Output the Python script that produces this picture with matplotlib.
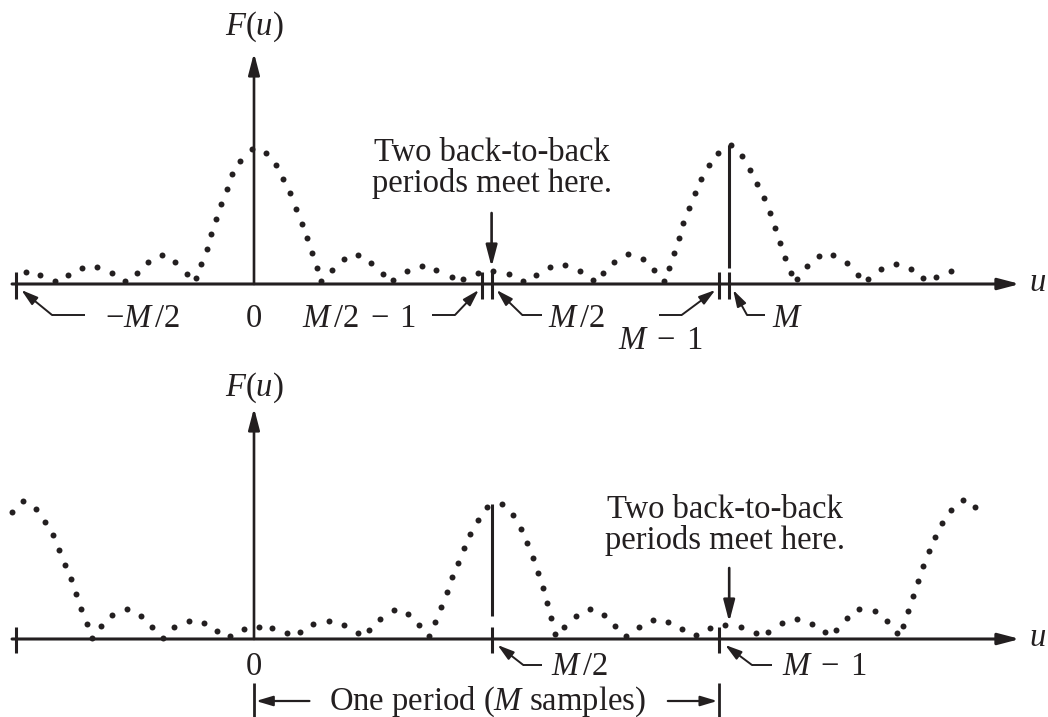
import numpy as np
import matplotlib.pyplot as plt
from matplotlib.patches import ArrowStyle

plt.rcParams['font.family'] = 'Liberation Serif'
plt.rcParams['mathtext.fontset'] = 'custom'
plt.rcParams['mathtext.rm'] = 'Liberation Serif'
plt.rcParams['mathtext.it'] = 'Liberation Serif:italic'

INK = '#231f20'
FS = 23.5
M = 48  # samples per period

# Spectrum with the origin at the left end of a period
top_u = [-23.03, -21.62, -20.10, -18.82, -17.40, -15.89, -14.31, -13.03, -11.85, -10.68,
         -9.26, -7.98, -6.80, -5.86, -5.32, -4.78, -4.34, -3.84, -3.30, -2.76,
         -2.19, -1.41, -0.23, 1.18, 2.22, 2.96, 3.67, 4.21, 4.82, 5.32,
         5.83, 6.39, 6.74, 7.85, 9.12, 10.54, 11.79, 13.06, 14.07, 15.42,
         16.94, 18.38, 19.97, 21.14, 22.60, 24.11, 25.79, 27.20, 28.48, 29.90,
         31.44, 32.93, 34.27, 35.28, 36.39, 37.78, 39.26, 40.40, 41.41, 41.95,
         42.39, 42.90, 43.36, 43.94, 44.55, 45.18, 45.96, 46.90, 48.15, 49.29,
         50.13, 50.84, 51.48, 52.09, 52.63, 53.16, 53.67, 54.24, 54.85, 55.83,
         57.04, 58.52, 59.90, 61.01, 62.05, 63.33, 64.85, 66.36, 67.61, 68.89, 70.37]
top_F = [0.12, 0.09, 0.03, 0.09, 0.16, 0.17, 0.11, 0.03, 0.11, 0.22,
         0.29, 0.22, 0.10, 0.06, 0.20, 0.35, 0.50, 0.65, 0.80, 0.95,
         1.10, 1.23, 1.35, 1.31, 1.19, 1.05, 0.91, 0.75, 0.60, 0.46,
         0.31, 0.16, 0.03, 0.14, 0.25, 0.29, 0.21, 0.10, 0.04, 0.13,
         0.18, 0.14, 0.07, 0.05, 0.11, 0.13, 0.10, 0.03, 0.09, 0.17,
         0.19, 0.13, 0.04, 0.11, 0.22, 0.30, 0.25, 0.14, 0.03, 0.16,
         0.31, 0.46, 0.61, 0.76, 0.91, 1.05, 1.19, 1.31, 1.39, 1.28,
         1.14, 1.00, 0.86, 0.71, 0.56, 0.41, 0.26, 0.11, 0.05, 0.18,
         0.28, 0.29, 0.21, 0.09, 0.05, 0.15, 0.20, 0.15, 0.06, 0.07, 0.13]

# Same spectrum after shifting by M/2
bot_u = [-24.44, -23.30, -22.02, -21.08, -20.33, -19.70, -19.06, -18.52, -17.98, -17.44,
         -16.87, -16.33, -15.45, -14.31, -12.86, -11.41, -10.30, -9.19, -8.05, -6.60,
         -5.05, -3.71, -2.45, -1.04, 0.51, 1.82, 3.30, 4.68, 5.99, 7.58,
         9.09, 10.47, 11.62, 12.76, 14.11, 15.53, 16.70, 17.71, 18.31, 18.89,
         19.46, 20.00, 20.61, 21.18, 21.82, 22.60, 23.54, 25.02, 26.13, 26.92,
         27.61, 28.15, 28.69, 29.16, 29.60, 30.00, 30.43, 31.31, 32.49, 33.91,
         35.32, 36.50, 37.61, 38.89, 40.30, 41.85, 43.26, 44.62, 46.03, 47.61,
         49.19, 50.68, 51.95, 53.33, 54.82, 56.33, 57.68, 58.82, 59.90, 61.14,
         62.70, 63.94, 64.95, 65.59, 66.03, 66.54, 67.07, 67.58, 68.15, 68.79,
         69.53, 70.40, 71.59, 72.86]
bot_F = [1.27, 1.38, 1.30, 1.17, 1.04, 0.89, 0.74, 0.60, 0.45, 0.30,
         0.15, 0.01, 0.13, 0.24, 0.30, 0.23, 0.12, 0.01, 0.12, 0.18,
         0.16, 0.08, 0.03, 0.10, 0.12, 0.11, 0.06, 0.07, 0.15, 0.18,
         0.14, 0.06, 0.09, 0.20, 0.29, 0.25, 0.14, 0.03, 0.17, 0.32,
         0.47, 0.62, 0.76, 0.91, 1.05, 1.19, 1.32, 1.35, 1.24, 1.10,
         0.96, 0.81, 0.66, 0.51, 0.36, 0.21, 0.05, 0.12, 0.23, 0.30,
         0.24, 0.13, 0.03, 0.12, 0.19, 0.17, 0.10, 0.04, 0.11, 0.14,
         0.12, 0.06, 0.07, 0.16, 0.20, 0.15, 0.07, 0.09, 0.21, 0.30,
         0.28, 0.18, 0.06, 0.13, 0.28, 0.43, 0.58, 0.73, 0.88, 1.02,
         1.16, 1.29, 1.39, 1.32]

top_u, top_F = np.array(top_u), np.array(top_F)
bot_u, bot_F = np.array(bot_u), np.array(bot_F)

BIG = ArrowStyle('-|>', head_length=0.65, head_width=0.17)
SMALL = ArrowStyle('-|>', head_length=0.5, head_width=0.15)


def arrow(ax, tail, tip, style=BIG, lw=2.0):
    ax.annotate('', xy=tip, xytext=tail,
                arrowprops=dict(arrowstyle=style, mutation_scale=20, lw=lw,
                                color=INK, shrinkA=0, shrinkB=0))


def leader(ax, path):
    xs, ys = zip(*path)
    ax.plot(xs[:-1], ys[:-1], color=INK, lw=1.4, solid_capstyle='butt')
    arrow(ax, path[-2], path[-1], style=SMALL, lw=1.4)


def label(ax, x, y, s):
    ax.text(x, y, s, fontsize=FS, ha='center', va='center', color=INK)


def frame(ax, label_F):
    arrow(ax, (-24.44, 0), (77.37, 0), lw=2.2)
    label(ax, 79.1, 0.01, '$u$')
    arrow(ax, (0, 0), (0, 2.31), lw=1.9)
    label(ax, 0, label_F, '$F(u)$')


fig = plt.figure(figsize=(10.48, 7.17), dpi=100)
ax_top = fig.add_axes([0, 357 / 717, 1, 360 / 717])
ax_bot = fig.add_axes([0, 0, 1, 357 / 717])
ax_top.set_ylim(-0.76, 2.84)
ax_bot.set_ylim(-0.78, 2.79)
for ax in (ax_top, ax_bot):
    ax.set_xlim(-254 / 9.9, 794 / 9.9)
    ax.axis('off')

# ---- top: centred at the origin
ax = ax_top
frame(ax, 2.57)
ax.plot(top_u, top_F, 'o', ms=4.3, color=INK, mec='none', zorder=3)
ax.vlines([-M / 2, M / 2 - 1, M / 2, M - 1, M], -0.15, 0.12, color=INK, lw=2.2)
ax.vlines(M, 0.16, top_F[top_u > 40].max(), color=INK, lw=2.2)

label(ax, -11.3, -0.35, r'$-M\,/2$')
leader(ax, [(-17.1, -0.31), (-20.4, -0.31), (-M / 2 + 0.5, -0.06)])
label(ax, 0, -0.35, '0')
label(ax, 10.6, -0.35, r'$M\,/2\;-\;1$')
leader(ax, [(18.0, -0.31), (20.3, -0.31), (M / 2 - 1 - 0.3, -0.06)])
label(ax, 32.6, -0.35, r'$M\,/2$')
leader(ax, [(29.1, -0.31), (27.1, -0.31), (M / 2 + 0.5, -0.06)])
label(ax, 41.1, -0.57, r'$M\;-\;1$')
leader(ax, [(40.9, -0.31), (43.2, -0.31), (M - 1 - 0.4, -0.06)])
label(ax, 53.9, -0.35, r'$M$')
leader(ax, [(51.6, -0.31), (49.8, -0.31), (M + 0.4, -0.06)])

ax.text(24.0, 1.16, 'Two back-to-back\nperiods meet here.', fontsize=FS,
        ha='center', va='center', linespacing=1.02, color=INK)
arrow(ax, (M / 2, 0.71), (M / 2, 0.17), lw=1.9)

# ---- bottom: shifted by M/2
ax = ax_bot
frame(ax, 2.51)
ax.plot(bot_u, bot_F, 'o', ms=4.3, color=INK, mec='none', zorder=3)
ax.vlines([-M / 2, M / 2, M - 1], -0.14, 0.12, color=INK, lw=2.2)
ax.vlines(M / 2, 0.23, bot_F[(bot_u > 10) & (bot_u < 40)].max(), color=INK, lw=2.2)

label(ax, 0, -0.28, '0')
label(ax, 32.9, -0.28, r'$M\,/2$')
leader(ax, [(29.1, -0.26), (27.2, -0.26), (M / 2 + 0.6, -0.06)])
label(ax, 57.6, -0.28, r'$M\;-\;1$')
leader(ax, [(52.3, -0.26), (50.3, -0.26), (M - 1 + 0.6, -0.06)])

ax.text(47.6, 1.14, 'Two back-to-back\nperiods meet here.', fontsize=FS,
        ha='center', va='center', linespacing=1.02, color=INK)
arrow(ax, (M, 0.71), (M, 0.17), lw=1.9)

# one-period bracket
ax.vlines([0, M - 1], -0.80, -0.44, color=INK, lw=2.0)
arrow(ax, (5.6, -0.62), (0.2, -0.62), style=SMALL, lw=1.6)
arrow(ax, (M - 1 - 5.2, -0.62), (M - 1 - 0.2, -0.62), style=SMALL, lw=1.6)
label(ax, 23.6, -0.625, r'One period ($M$ samples)')

fig.savefig('out.png', dpi=100, facecolor='white')
